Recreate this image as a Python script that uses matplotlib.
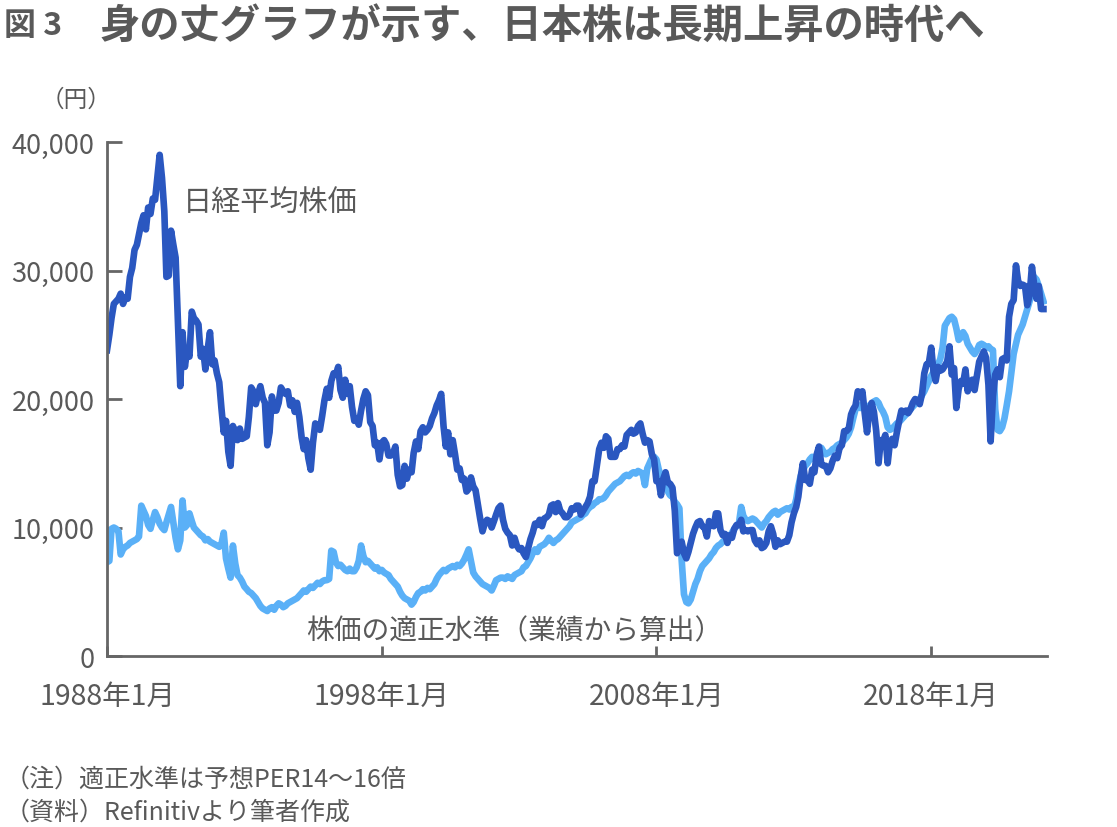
import matplotlib
matplotlib.use('Agg')
import matplotlib.pyplot as plt
import pandas as pd

plt.rcParams['font.family'] = ['Noto Sans CJK JP', 'DejaVu Sans']

# monthly, Jan 1988 .. Feb 2022
months = pd.date_range('1988-01-01', '2022-02-01', freq='MS')

nikkei = [
    23800, 25000, 26300, 27400, 27600, 27800, 28200, 27400, 27900, 27800, 29500, 30200,  # 1988
    31600, 32000, 32800, 33700, 34300, 33200, 34900, 34400, 35600, 35500, 37300, 39000,  # 1989
    37200, 34600, 29500, 29600, 33100, 32000, 31000, 26000, 21000, 25200, 22500, 23800,  # 1990
    23300, 26800, 26300, 26100, 25800, 23300, 23900, 22300, 23900, 25200, 22700, 23000,  # 1991
    22000, 21300, 19300, 17400, 18300, 15900, 14800, 17900, 17400, 16800, 17700, 16900,  # 1992
    17000, 17100, 18600, 20900, 20600, 19600, 20400, 21000, 20100, 19700, 16400, 17400,  # 1993
    20200, 19100, 19100, 19700, 20900, 20600, 20400, 20600, 19500, 19900, 19000, 19700,  # 1994
    18600, 17000, 16100, 16800, 15400, 14500, 16600, 18100, 17900, 17600, 18700, 19900,  # 1995
    20800, 20100, 21400, 22000, 21900, 22500, 20700, 20100, 21500, 20400, 21000, 19400,  # 1996
    18300, 18500, 18000, 19100, 20000, 20600, 20300, 18200, 17900, 16400, 16600, 15300,  # 1997
    16600, 16800, 16500, 15600, 15600, 15800, 16300, 14100, 13200, 13300, 14800, 13800,  # 1998
    14500, 14300, 15800, 16700, 16100, 17500, 17800, 17400, 17600, 17900, 18500, 18900,  # 1999
    19500, 19900, 20400, 17900, 16300, 17400, 15700, 16800, 15700, 14500, 14600, 13700,  # 2000
    13800, 12800, 13000, 13900, 13200, 12900, 11800, 10700, 9700, 10300, 10600, 10500,   # 2001
    10000, 10500, 11000, 11500, 11700, 10600, 9900, 9600, 9400, 8600, 9200, 8600,        # 2002
    8300, 8400, 8000, 7700, 8400, 9100, 9600, 10300, 10200, 10600, 10100, 10700,         # 2003
    10800, 11000, 11700, 11800, 11200, 11900, 11300, 11100, 10800, 10800, 11000, 11500,  # 2004
    11400, 11700, 11700, 11000, 11300, 11600, 11900, 12400, 13600, 13600, 14900, 16100,  # 2005
    16600, 16200, 17100, 16900, 15500, 15500, 15500, 16100, 16100, 16400, 16300, 17200,  # 2006
    17400, 17600, 17300, 17400, 17900, 18100, 17300, 16600, 16800, 16700, 15700, 15300,  # 2007
    13600, 13600, 12500, 13800, 14300, 13500, 13400, 13100, 11300, 8000, 8500, 8900,     # 2008
    8000, 7600, 8100, 8800, 9500, 10000, 10400, 10500, 10100, 10000, 9300, 10500,        # 2009
    10200, 10100, 11100, 11100, 9800, 9400, 9500, 8800, 9400, 9200, 9900, 10200,         # 2010
    10200, 10600, 9700, 9800, 9700, 9800, 9800, 9000, 8700, 9000, 8400, 8500,           # 2011
    8800, 9700, 10100, 9500, 8500, 9000, 8700, 8800, 8900, 8900, 9400, 10400,            # 2012
    11100, 11600, 12400, 13900, 15000, 13700, 13700, 13400, 14500, 14300, 15700, 16300,  # 2013
    14900, 14800, 14800, 14300, 14600, 15200, 15600, 15400, 16200, 16400, 17500, 17500,  # 2014
    17700, 18800, 19200, 19500, 20600, 20200, 20600, 18900, 17400, 19100, 19700, 19000,  # 2015
    17500, 15000, 16800, 16700, 17200, 15000, 16600, 16900, 16400, 17400, 18300, 19100,  # 2016
    19000, 19100, 18900, 19200, 19700, 20000, 19900, 19600, 20400, 22000, 22700, 22800,  # 2017
    24000, 22100, 21400, 22500, 22200, 22300, 22600, 22900, 24100, 21900, 22400, 19300,  # 2018
    20800, 21400, 21200, 22300, 20600, 21300, 21500, 20700, 21800, 22900, 23300, 23700,  # 2019
    23200, 21100, 16700, 20200, 21900, 22300, 21700, 23100, 23200, 23000, 26400, 27400,  # 2020
    27700, 30400, 29200, 28800, 28900, 28800, 27300, 28100, 30300, 28900, 27800, 28800,  # 2021
    27000, 27000,                                                                        # 2022
]

fair_value = [
    7300, 7400, 9900, 10000, 9900, 9700, 7900, 8300, 8500, 8600, 8800, 8900,            # 1988
    9000, 9100, 9300, 11700, 11300, 10900, 10200, 9900, 10600, 11200, 10800, 10300,      # 1989
    10000, 9800, 10400, 11000, 11600, 10400, 9200, 8300, 9000, 12100, 10000, 10200,      # 1990
    11100, 10500, 10000, 9800, 9600, 9400, 9300, 9000, 9100, 8900, 8800, 8700,           # 1991
    8600, 8500, 8700, 9600, 7600, 6800, 6100, 8600, 7200, 6300, 6100, 5800,              # 1992
    5400, 5200, 5000, 4900, 4700, 4500, 4200, 3900, 3700, 3600, 3500, 3700,              # 1993
    3800, 3600, 3900, 4100, 4000, 3800, 3900, 4100, 4200, 4300, 4400, 4500,              # 1994
    4700, 4900, 5100, 5000, 5200, 5400, 5300, 5500, 5700, 5600, 5800, 5900,              # 1995
    5900, 6000, 8200, 8100, 7300, 7000, 7100, 6900, 6700, 6600, 6800, 6600,              # 1996
    6600, 6900, 7400, 8600, 7800, 7300, 7400, 7200, 7000, 6800, 6900, 6600,              # 1997
    6700, 6500, 6400, 6300, 6000, 5800, 5600, 5400, 5000, 4700, 4500, 4400,              # 1998
    4300, 4000, 4200, 4600, 4900, 5000, 5200, 5100, 5300, 5200, 5400, 5600,              # 1999
    6000, 6300, 6500, 6700, 6600, 6800, 6900, 7000, 6900, 7100, 7000, 7200,              # 2000
    7500, 7900, 8300, 7400, 6500, 6200, 6000, 5800, 5600, 5500, 5400, 5300,              # 2001
    5100, 5500, 5900, 6000, 6100, 6100, 6000, 6200, 6100, 6000, 6300, 6400,              # 2002
    6500, 6600, 6900, 7000, 7300, 7600, 8000, 8300, 8100, 8500, 8600, 8700,              # 2003
    8900, 9200, 9000, 8800, 9000, 9100, 9300, 9500, 9700, 9900, 10100, 10400,            # 2004
    10500, 10600, 10700, 10800, 11000, 11100, 11400, 11600, 11700, 11900, 12000, 12200,  # 2005
    12200, 12300, 12500, 12800, 13000, 13200, 13400, 13500, 13600, 13800, 14000, 14100,  # 2006
    14000, 14200, 14300, 14200, 14400, 14300, 14200, 13300, 14600, 15000, 15400, 15500,  # 2007
    15300, 14500, 14000, 13700, 13300, 12800, 12500, 12400, 12000, 11800, 11500, 7500,   # 2008
    4800, 4200, 4100, 4400, 5000, 5600, 6000, 6600, 7000, 7200, 7400, 7600,              # 2009
    7900, 8100, 8400, 8600, 8700, 8900, 9000, 9200, 9300, 9600, 9900, 10100,            # 2010
    10300, 11600, 10900, 10600, 10500, 10600, 10700, 10600, 10400, 10200, 10000, 10300,  # 2011
    10500, 10800, 11000, 11200, 11300, 11000, 11200, 11300, 11400, 11500, 11400, 11600,  # 2012
    11500, 12200, 13200, 14000, 14500, 14800, 15000, 15300, 15500, 15300, 15600, 16000,  # 2013
    16200, 15900, 15700, 15800, 15900, 16100, 16200, 16400, 16500, 16600, 16800, 17000,  # 2014
    17300, 17800, 18500, 19200, 19500, 19300, 19600, 19400, 19300, 19500, 19600, 19800,  # 2015
    19900, 19700, 19300, 19000, 18600, 17800, 17600, 17700, 17900, 18100, 18200, 18400,  # 2016
    18600, 18800, 19000, 19200, 19400, 19600, 19800, 20000, 20300, 20600, 21000, 21400,  # 2017
    21800, 22100, 22400, 22700, 23100, 24000, 25700, 26000, 26300, 26400, 26200, 25500,  # 2018
    24600, 24800, 25200, 24900, 24300, 24000, 23700, 23500, 23800, 24200, 24300, 24200,  # 2019
    24000, 24100, 23900, 23800, 19200, 17600, 17500, 17800, 18500, 19500, 20600, 22000,  # 2020
    23500, 24300, 25000, 25400, 25800, 26400, 27000, 27600, 28700, 29500, 29300, 28800,  # 2021
    28200, 27600,                                                                        # 2022
]

y_ticks = [0, 10000, 20000, 30000, 40000]
tick_years = [1988, 1998, 2008, 2018]
tick_labels = [f'{y}年1月' for y in tick_years]

text_gray = '#595959'
axis_gray = '#666666'
dark_blue = '#2a57c0'
light_blue = '#5ab0f7'

fig = plt.figure(figsize=(11.17, 8.28), dpi=100)
ax = fig.add_axes([0.0958, 0.2065, 0.8415, 0.6208])

ax.plot(months, fair_value, color=light_blue, lw=4.8, solid_joinstyle='round')
ax.plot(months, nikkei, color=dark_blue, lw=4.8, solid_joinstyle='round')

ax.set_ylim(0, 40000)
ax.set_xlim(pd.Timestamp('1988-01-01'), pd.Timestamp('2022-03-20'))
ax.set_yticks(y_ticks)
ax.set_yticklabels([f'{v:,}' for v in y_ticks])
ax.set_xticks([pd.Timestamp(f'{y}-01-01') for y in tick_years])
ax.set_xticklabels(tick_labels)

for s in ['top', 'right']:
    ax.spines[s].set_visible(False)
for s in ['left', 'bottom']:
    ax.spines[s].set_color(axis_gray)
    ax.spines[s].set_linewidth(2)
ax.tick_params(axis='y', direction='in', length=11, width=2, color=axis_gray,
               labelcolor=text_gray, labelsize=19.5, pad=9)
ax.tick_params(axis='x', direction='in', length=7, width=2, color=axis_gray,
               labelcolor=text_gray, labelsize=20.5, pad=18)

ax.text(pd.Timestamp('1990-10-01'), 35300, '日経平均株価', fontsize=21,
        color=text_gray, va='center', ha='left')
ax.text(pd.Timestamp('1995-04-01'), 2000, '株価の適正水準（業績から算出）', fontsize=20,
        color=text_gray, va='center', ha='left')

fig.text(0.036, 0.879, '（円）', fontsize=17, color=text_gray, ha='left', va='center')
fig.text(0.004, 0.968, '図 3', fontsize=23, color=text_gray, ha='left', va='center',
         fontweight='bold')
fig.text(0.089, 0.968, '身の丈グラフが示す、日本株は長期上昇の時代へ', fontsize=29,
         color=text_gray, ha='left', va='center', fontweight='bold')

fig.text(0.004, 0.058, '（注）適正水準は予想PER14～16倍', fontsize=18,
         color=text_gray, ha='left', va='center')
fig.text(0.004, 0.019, '（資料）Refinitivより筆者作成', fontsize=18,
         color=text_gray, ha='left', va='center')

fig.savefig('out.png', dpi=100)
